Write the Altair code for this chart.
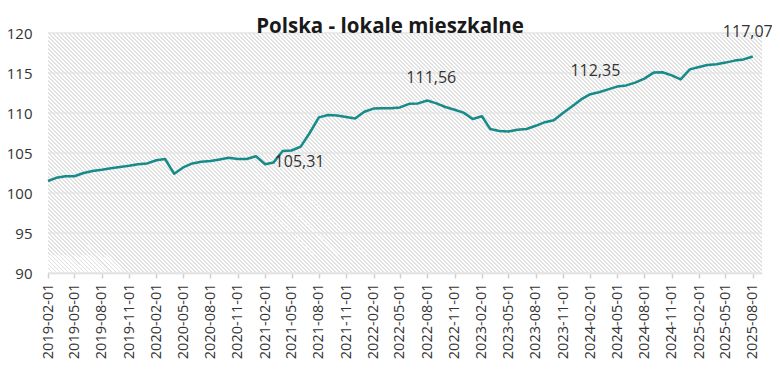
import altair as alt
import pandas as pd

# ---- data ----
start_month = "2019-02-01"
values = [
    101.5, 101.9, 102.1, 102.1, 102.5, 102.75, 102.9, 103.1, 103.25, 103.4, 103.6, 103.7,
    104.1, 104.25, 102.4, 103.2, 103.7, 103.9, 104.0, 104.2, 104.4, 104.25, 104.25, 104.6,
    103.6, 103.8, 105.25, 105.31, 105.8, 107.5, 109.45, 109.75, 109.7, 109.5, 109.3, 110.15,
    110.55, 110.6, 110.6, 110.7, 111.15, 111.2, 111.56, 111.2, 110.75, 110.4, 110.05, 109.25,
    109.6, 108.0, 107.75, 107.7, 107.9, 108.0, 108.4, 108.85, 109.1, 110.0, 110.8, 111.7,
    112.35, 112.6, 112.95, 113.3, 113.45, 113.8, 114.3, 115.05, 115.1, 114.7, 114.2, 115.45,
    115.75, 116.0, 116.1, 116.3, 116.55, 116.7, 117.07,
]
dates = pd.date_range(start_month, periods=len(values), freq="MS")

ann_dates = ["2021-05-01", "2022-08-01", "2024-02-01", "2025-08-01"]
ann_labels = ["105,31", "111,56", "112,35", "117,07"]

x_ticks = [d.strftime("%Y-%m-%d") for d in pd.date_range("2019-02-01", "2025-08-01", freq="3MS")]
y_ticks = [90, 95, 100, 105, 110, 115, 120]
x_domain = ["2019-02-01", "2025-09-01"]
y_domain = [90, 120]

df = pd.DataFrame({"date": dates.strftime("%Y-%m-%d"), "value": values})
ann_df = pd.DataFrame({
    "date": ann_dates,
    "value": [values[list(df["date"]).index(d)] for d in ann_dates],
    "label": ann_labels,
})
bg_df = pd.DataFrame({"x": [x_domain[0]], "x2": [x_domain[1]], "y": [y_domain[0]], "y2": [y_domain[1]]})
grid_df = pd.DataFrame({"y": y_ticks})

# ---- styling ----
W, H = 714, 240
FONT = "Open Sans"
LINE_COLOR = "#178a8a"

# diagonal hatch ("\" stripes) built from a linear gradient with hard stops
ratio = H / W
k = (1 + ratio) / (1 + ratio ** 2)
n_stripes = (W + H) / 4.0          # 4px horizontal period, pixel aligned
duty = 0.38
stops = []
i = 0
while i / n_stripes < 1:
    a = i / n_stripes
    b = min((i + duty) / n_stripes, 1)
    c = min((i + 1) / n_stripes, 1)
    stops += [
        alt.GradientStop(offset=a, color="#e1e1e1"),
        alt.GradientStop(offset=b, color="#e1e1e1"),
        alt.GradientStop(offset=b, color="#ffffff"),
        alt.GradientStop(offset=c, color="#ffffff"),
    ]
    i += 1
hatch = alt.LinearGradient(gradient="linear", stops=stops, x1=0, y1=1, x2=k, y2=1 - k * ratio)

x_scale = alt.Scale(domain=x_domain)
y_scale = alt.Scale(domain=y_domain)

x_axis = alt.Axis(
    values=x_ticks, format="%Y-%m-%d", labelAngle=270, labelAlign="right", labelBaseline="middle",
    labelFont=FONT, labelFontSize=14.5, labelColor="#333333", labelPadding=5,
    tickColor="#d0d0d0", tickSize=5, tickWidth=1.5, domainColor="#dcdcdc", domainWidth=1.5,
    grid=False, title=None, labelOverlap=False, labelFlush=False, labelBound=False,
)
y_axis = alt.Axis(
    values=y_ticks, labelFont=FONT, labelFontSize=15, labelColor="#333333", labelPadding=16,
    ticks=False, domain=False, grid=False, title=None,
)

bg = alt.Chart(bg_df).mark_rect(fill=hatch).encode(
    x=alt.X("x:T", scale=x_scale, axis=x_axis),
    x2="x2:T",
    y=alt.Y("y:Q", scale=y_scale, axis=y_axis),
    y2="y2:Q",
)

grid = alt.Chart(grid_df).mark_rule(color="#e4e4e4", strokeWidth=1.5).encode(
    y=alt.Y("y:Q", scale=y_scale, axis=y_axis),
)

line = alt.Chart(df).mark_line(color=LINE_COLOR, strokeWidth=2.5, strokeJoin="round").encode(
    x=alt.X("date:T", scale=x_scale, axis=x_axis),
    y=alt.Y("value:Q", scale=y_scale, axis=y_axis),
)

offsets = {"105,31": (8, 11), "111,56": (4, -23), "112,35": (5, -23.5), "117,07": (-5, -24)}
texts = []
for lab, (dx, dy) in offsets.items():
    texts.append(
        alt.Chart(ann_df).transform_filter(alt.datum.label == lab)
        .mark_text(font=FONT, fontSize=16, color="#333333", dx=dx, dy=dy, baseline="middle", align="center")
        .encode(
            x=alt.X("date:T", scale=x_scale, axis=x_axis),
            y=alt.Y("value:Q", scale=y_scale, axis=y_axis),
            text="label:N",
        )
    )

chart = alt.layer(bg, grid, line, *texts).properties(
    width=W, height=H,
    title=alt.TitleParams(
        "Polska - lokale mieszkalne", font=FONT, fontSize=20.5, fontWeight="bold", color="#1a1a1a",
        anchor="middle", frame="group", dx=-15, dy=15, offset=2,
    ),
    autosize=alt.AutoSizeParams(type="none"),
    padding={"left": 40, "top": 25, "right": 10, "bottom": 95},
).configure_view(stroke=None).configure_axisX(labelOverlap=False)

chart.save("out.html", embed_options={"renderer": "svg", "actions": False})
